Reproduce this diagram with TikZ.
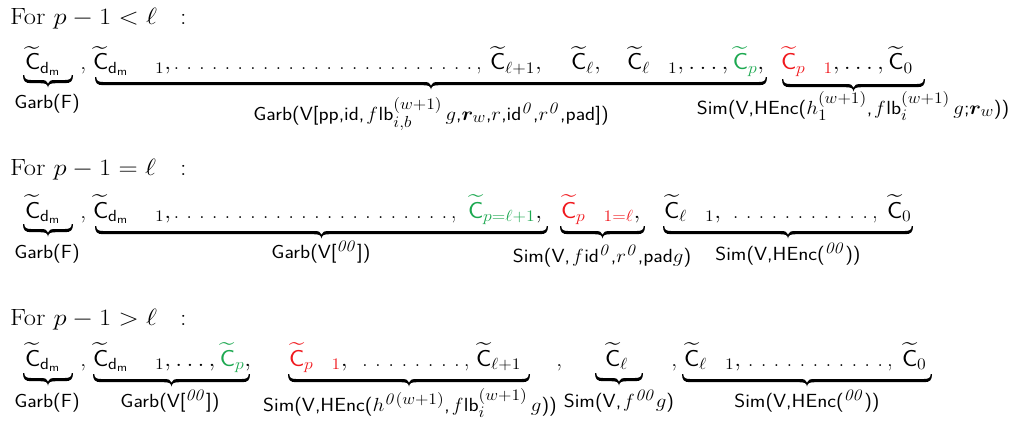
\RequirePackage{fix-cm}
\documentclass[tikz,border=0pt]{standalone}
\usepackage{amsmath,bm}
\definecolor{cgreen}{RGB}{28,168,80}
\definecolor{cred}{RGB}{240,25,30}
\DeclareMathSizes{19}{19}{16}{12}
\newcommand\Ct{\widetilde{\mathsf{C}}}
\newcommand\dm{\mathsf{d}_{\mathsf{m}}}
\newcommand\gap{\kern17pt}
\newcommand\dgap{\kern25pt}
% a run of baseline dots of a given width
\newcommand\dotrun[1]{\hbox to #1pt{\xleaders\hbox to 12.6pt{\hss.\hss}\hfill}}
% a filled under-brace from x1 to x2 with its top at y
\newcommand\ubrace[3]{%
  \pgfmathsetmacro\xa{#1}\pgfmathsetmacro\xb{#2}\pgfmathsetmacro\ya{#3}%
  \pgfmathsetmacro\xm{(\xa+\xb)/2}%
  \fill (\xa,\ya) .. controls (\xa,\ya+6) and (\xa+2,\ya+8.2) .. (\xa+8,\ya+8.2)
    -- (\xm-8,\ya+8.2) .. controls (\xm-2.5,\ya+8.2) and (\xm-0.4,\ya+9) .. (\xm,\ya+12.5)
    .. controls (\xm+0.4,\ya+9) and (\xm+2.5,\ya+8.2) .. (\xm+8,\ya+8.2)
    -- (\xb-8,\ya+8.2) .. controls (\xb-2,\ya+8.2) and (\xb,\ya+6) .. (\xb,\ya)
    -- (\xb-1.3,\ya) .. controls (\xb-1.3,\ya+3.6) and (\xb-3,\ya+5) .. (\xb-8,\ya+5)
    -- (\xm+8,\ya+5) .. controls (\xm+3,\ya+5) and (\xm+0.6,\ya+5.6) .. (\xm,\ya+8.6)
    .. controls (\xm-0.6,\ya+5.6) and (\xm-3,\ya+5) .. (\xm-8,\ya+5)
    -- (\xa+8,\ya+5) .. controls (\xa+3,\ya+5) and (\xa+1.3,\ya+3.6) .. (\xa+1.3,\ya) -- cycle;}
\tikzset{
  every node/.style={inner sep=0pt, outer sep=0pt},
  main/.style={anchor=base west, font=\fontsize{23}{28}\selectfont, xscale=1.1},
  run/.style={anchor=base west, font=\fontsize{23}{28}\selectfont},
  title/.style={anchor=base west, font=\fontsize{23.5}{28}\selectfont, xscale=1.13},
  colon/.style={anchor=base west, font=\fontsize{23.5}{28}\selectfont, xscale=1.1},
  lab/.style={anchor=base, font=\fontsize{19}{23}\selectfont\sffamily, xscale=1.1},
}
\begin{document}
\begin{tikzpicture}[x=1pt,y=-1pt]
\useasboundingbox (0,0) rectangle (1019,428);
% ---------- case p-1 < l ----------
\node[title] (t1) at (10,25) {For $p-1<\ell$};
\node[colon] (t1c) at (180,25) {:};
\node[main] (a1) at (25,70) {$\Ct_{\dm}$};
\node[main] (a2) at (80,70) {,};
\node[main] (a3) at (93,70) {$\Ct_{\dm\dgap 1},$};
\node[run]  (a4) at (170,70) {\dotrun{306},};
\node[main] (a5) at (490,70) {$\Ct_{\ell+1},$};
\node[main] (a6) at (571,70) {$\Ct_{\ell},$};
\node[main] (a7) at (627,70) {$\Ct_{\ell\gap 1},\ldots,\textcolor{cgreen}{\Ct_p},$};
\node[main] (a8) at (781,70) {$\textcolor{cred}{\Ct_{p\gap 1}},\ldots,\Ct_0$};
\ubrace{23}{73}{75}
\ubrace{95}{767}{77}
\ubrace{782}{925}{79}
\node[lab] (al1) at (47,108) {Garb(F)};
\node[lab] (al2) at (431,120) {Garb(V[pp,id,\,$\mathit{f}$lb$^{(w+1)}_{i,b}\,g$,$\bm{r}_w$,$r$,id$^{\mathit{0}}$,$r^{\mathit{0}}$,pad])};
\node[lab] (al3) at (853,114) {Sim(V,HEnc($h^{(w+1)}_1$,\,$\mathit{f}$lb$^{(w+1)}_i\,g$;$\bm{r}_w$))};
% ---------- case p-1 = l ----------
\node[title] (t2) at (10,175) {For $p-1=\ell$};
\node[colon] (t2c) at (180,175) {:};
\node[main] (b1) at (25,218) {$\Ct_{\dm}$};
\node[main] (b2) at (80,218) {,};
\node[main] (b3) at (93,218) {$\Ct_{\dm\dgap 1},$};
\node[run]  (b4) at (170,218) {\dotrun{281},};
\node[main] (b5) at (468,218) {$\textcolor{cgreen}{\Ct_{p=\ell+1}},$};
\node[main] (b6) at (561,218) {$\textcolor{cred}{\Ct_{p\gap 1=\ell}},$};
\node[main] (b7) at (664,218) {$\Ct_{\ell\gap 1},$};
\node[run]  (b8) at (729,218) {\dotrun{143},};
\node[main] (b9) at (887,218) {$\Ct_0$};
\ubrace{23}{73}{224}
\ubrace{95}{548}{226}
\ubrace{560}{645}{226}
\ubrace{663}{913}{226}
\node[lab] (bl1) at (47,258) {Garb(F)};
\node[lab] (bl2) at (321,258) {Garb(V[$^{\mathit{00}}$])};
\node[lab] (bl3) at (602,262) {Sim(V,\,$\mathit{f}$id$^{\mathit{0}}$,$r^{\mathit{0}}$,pad$g$)};
\node[lab] (bl4) at (788,260) {Sim(V,HEnc($^{\mathit{00}}$))};
% ---------- case p-1 > l ----------
\node[title] (t3) at (10,325) {For $p-1>\ell$};
\node[colon] (t3c) at (180,325) {:};
\node[main] (c1) at (25,366) {$\Ct_{\dm}$};
\node[main] (c2) at (80,366) {,};
\node[main] (c3) at (93,366) {$\Ct_{\dm\dgap 1},\ldots,\textcolor{cgreen}{\Ct_p},$};
\node[main] (c4) at (289,366) {$\textcolor{cred}{\Ct_{p\gap 1}},$};
\node[run]  (c5) at (358,366) {\dotrun{106},};
\node[main] (c6) at (476,366) {$\Ct_{\ell+1}$};
\node[main] (c7) at (556,366) {,};
\node[main] (c8) at (605,366) {$\Ct_{\ell}$};
\node[main] (c9) at (671,366) {,};
\node[main] (c10) at (684,366) {$\Ct_{\ell\gap 1},$};
\node[run]  (c11) at (744,366) {\dotrun{143},};
\node[main] (c12) at (902,366) {$\Ct_0$};
\ubrace{23}{73}{373}
\ubrace{93}{250}{374}
\ubrace{288}{530}{374}
\ubrace{595}{643}{373}
\ubrace{682}{932}{374}
\node[lab] (cl1) at (47,407) {Garb(F)};
\node[lab] (cl2) at (170,407) {Garb(V[$^{\mathit{00}}$])};
\node[lab] (cl3) at (410,411) {Sim(V,HEnc($h^{\mathit{0}(w+1)}$,\,$\mathit{f}$lb$^{(w+1)}_i\,g$))};
\node[lab] (cl4) at (619,407) {Sim(V,\,$\mathit{f}^{\mathit{00}}g$)};
\node[lab] (cl5) at (807,407) {Sim(V,HEnc($^{\mathit{00}}$))};
\end{tikzpicture}
\end{document}
